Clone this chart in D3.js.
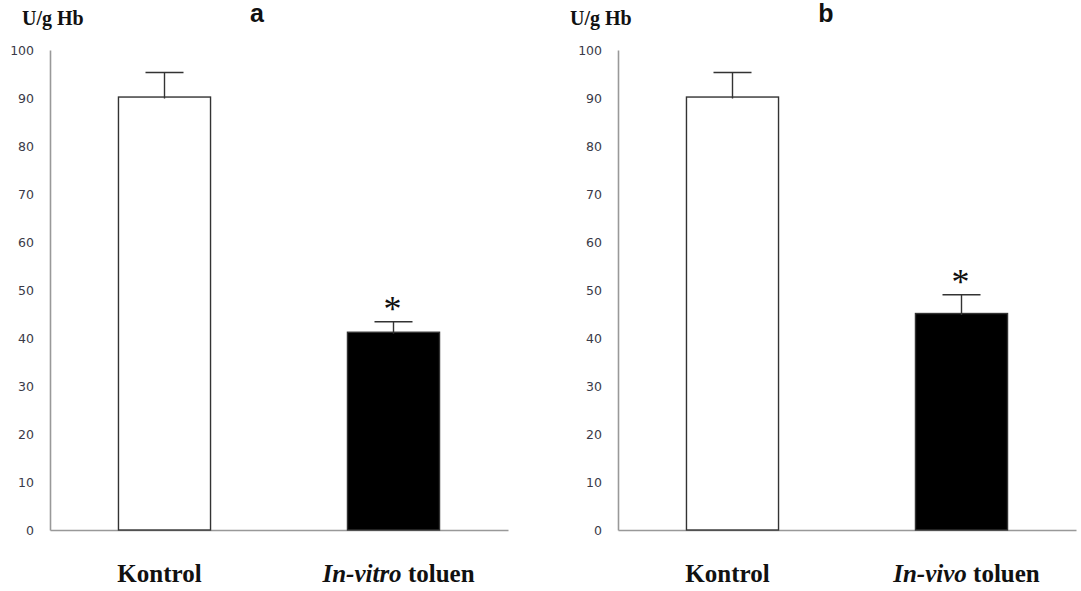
<!DOCTYPE html>
<html><head><meta charset="utf-8">
<script src="https://cdn.jsdelivr.net/npm/d3@7"></script>
<style>body{margin:0;background:#fff}svg{display:block}</style>
</head><body>
<svg id="c" width="1081" height="591"></svg>
<script>
const categories = ["Kontrol", "toluen"];
const panelLetters = ["a", "b"];
const italicPrefixes = ["In-vitro", "In-vivo"];
const valuesA = [90.2, 41.2];
const errorsA = [5.1, 2.2];
const valuesB = [90.2, 45.1];
const errorsB = [5.1, 3.9];
const significant = [false, true];
const yTicks = [0,10,20,30,40,50,60,70,80,90,100];
const yUnit = "U/g Hb";
const fills = ["#ffffff", "#000000"];

const svg = d3.select("#c");
const panels = [
  {left: 50, right: 508, values: valuesA, errors: errorsA, letter: panelLetters[0], italic: italicPrefixes[0], letterX: 257, unitX: 22},
  {left: 618, right: 1076, values: valuesB, errors: errorsB, letter: panelLetters[1], italic: italicPrefixes[1], letterX: 826, unitX: 570}
];
const y = d3.scaleLinear().domain([0, 100]).range([530, 50]);

panels.forEach(p => {
  const g = svg.append("g");
  const x = d3.scaleBand().domain(categories).range([p.left, p.right]).paddingInner(0.598).paddingOuter(0.299);

  const ya = g.append("g").attr("transform", `translate(${p.left},0)`)
    .call(d3.axisLeft(y).tickValues(yTicks).tickSize(0).tickPadding(16));
  ya.select(".domain").attr("stroke", "#999").attr("stroke-width", 1.6);
  ya.selectAll("text").attr("font-family", "DejaVu Sans, Verdana, sans-serif").attr("font-size", 12.5).attr("fill", "#3a3a48");

  const xa = g.append("g").attr("transform", `translate(0,${y(0)})`)
    .call(d3.axisBottom(x).tickSize(0).tickFormat(""));
  xa.select(".domain").attr("stroke", "#999").attr("stroke-width", 1.6);

  g.selectAll("rect.bar").data(categories).join("rect")
    .attr("x", d => x(d)).attr("width", x.bandwidth())
    .attr("y", (d, i) => y(p.values[i])).attr("height", (d, i) => y(0) - y(p.values[i]))
    .attr("fill", (d, i) => fills[i]).attr("stroke", "#333").attr("stroke-width", 1.4);

  categories.forEach((d, i) => {
    const cx = x(d) + x.bandwidth() / 2;
    const top = y(p.values[i] + p.errors[i]);
    g.append("line").attr("x1", cx).attr("x2", cx).attr("y1", y(p.values[i]) + 1.5).attr("y2", top)
      .attr("stroke", "#333").attr("stroke-width", 1.4);
    g.append("line").attr("x1", cx - 19).attr("x2", cx + 19).attr("y1", top).attr("y2", top)
      .attr("stroke", "#333").attr("stroke-width", 1.4);
    if (significant[i]) {
      g.append("text").attr("x", cx - 1).attr("y", top - 1)
        .attr("text-anchor", "middle").attr("font-family", "Liberation Serif, Times New Roman, serif")
        .attr("font-size", 36).attr("fill", "#111").text("*");
    }
  });

  categories.forEach((d, i) => {
    const cx = x(d) + x.bandwidth() / 2;
    const t = g.append("text").attr("x", cx + (i === 0 ? -5 : 5)).attr("y", 582).attr("text-anchor", "middle")
      .attr("font-family", "Liberation Serif, Times New Roman, serif").attr("font-weight", "bold")
      .attr("font-size", 25).attr("fill", "#111");
    if (i === 0) t.text(d);
    else {
      t.append("tspan").attr("font-style", "italic").text(p.italic);
      t.append("tspan").text(" " + d);
    }
  });

  g.append("text").attr("x", p.unitX).attr("y", 25)
    .attr("font-family", "Liberation Serif, Times New Roman, serif").attr("font-weight", "bold")
    .attr("font-size", 20).attr("fill", "#111").text(yUnit);

  g.append("text").attr("x", p.letterX).attr("y", 22).attr("text-anchor", "middle")
    .attr("font-family", "Liberation Sans, Arial, sans-serif").attr("font-weight", "bold")
    .attr("font-size", 25).attr("fill", "#111").text(p.letter);
});
</script>
</body></html>
